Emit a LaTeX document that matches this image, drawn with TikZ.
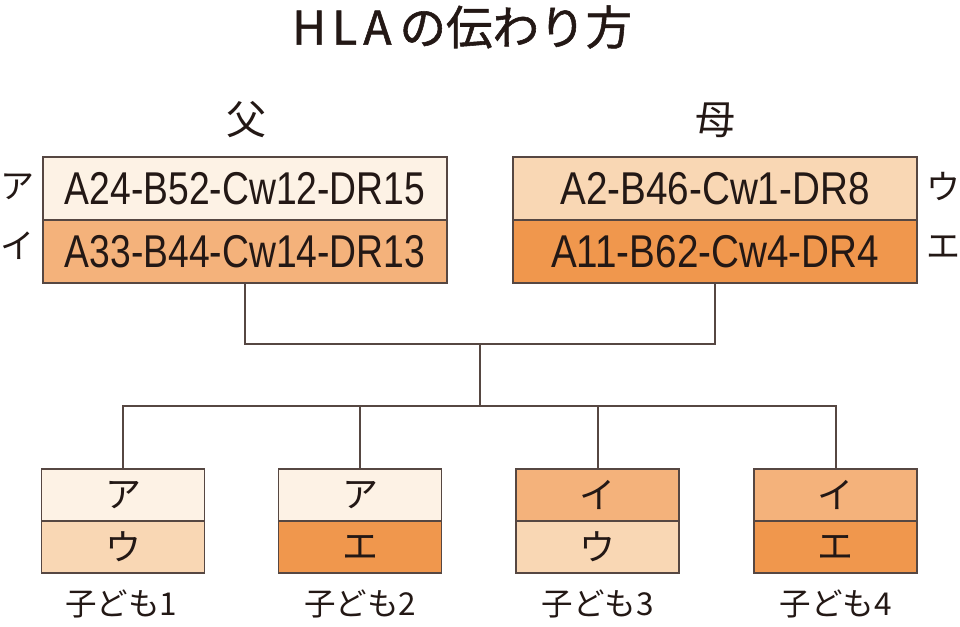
\documentclass[tikz,border=0pt]{standalone}
\usepackage{fontspec}
\usepackage{graphicx}
\setmainfont{Liberation Sans}
\newfontfamily\jpfont{Noto Sans CJK JP}
\newfontfamily\jptitle[FakeBold=1.2]{Noto Sans CJK JP}
\newfontfamily\latfont{Liberation Sans}
\newcommand\geno[1]{\scalebox{0.81}[1]{\latfont\fontsize{46pt}{50pt}\selectfont #1}}
\newcommand\genow[1]{\scalebox{0.84}[1]{\latfont\fontsize{46pt}{50pt}\selectfont #1}}
\definecolor{cA}{HTML}{FDF2E5}
\definecolor{cU}{HTML}{F9D7B4}
\definecolor{cI}{HTML}{F4B27B}
\definecolor{cE}{HTML}{F0974D}
\definecolor{bordercol}{HTML}{564742}
\definecolor{ink}{HTML}{231815}
\tikzset{
  prow/.style={draw=bordercol, line width=1.8pt, minimum width=404pt, minimum height=63pt, inner sep=0pt, text=ink},
  crow/.style={draw=bordercol, line width=1.8pt, minimum width=163pt, minimum height=52pt, inner sep=0pt, text=ink, font=\jpfont\fontsize{36pt}{38pt}\selectfont},
  kana/.style={inner sep=0pt, text=ink, font=\jpfont\fontsize{34pt}{38pt}\selectfont},
  conn/.style={draw=bordercol, line width=2pt},
  lbl/.style={inner sep=0pt, text=ink, font=\jpfont\fontsize{31.5pt}{34pt}\selectfont}
}
\begin{document}
\begin{tikzpicture}[x=1pt, y=-1pt]
\useasboundingbox (0,0) rectangle (960,626);
% title
\node[anchor=west, inner sep=0pt, text=ink, font=\jptitle\fontsize{46.5pt}{50pt}\selectfont] (title) at (292,27) {H\kern6pt L\kern6pt A\kern8pt の伝わり方};
% parents
\node[kana, font=\jpfont\fontsize{40pt}{44pt}\selectfont] (father) at (246,120) {父};
\node[kana, font=\jpfont\fontsize{40pt}{44pt}\selectfont] (mother) at (715,120) {母};
\node[prow, fill=cA] (fa1) at (245,188.5) {\geno{A24-B52-Cw12-DR15}};
\node[prow, fill=cI] (fa2) at (245,251.5) {\geno{A33-B44-Cw14-DR13}};
\node[prow, fill=cU] (mo1) at (715,188.5) {\genow{A2-B46-Cw1-DR8}};
\node[prow, fill=cE] (mo2) at (715,251.5) {\genow{A11-B62-Cw4-DR4}};
\node[kana] (la) at (17,187) {ア};
\node[kana] (li) at (17,246) {イ};
\node[kana] (lu) at (943,187) {ウ};
\node[kana] (le) at (943,247) {エ};
% children
\node[crow, fill=cA] (c1a) at (123,495) {ア};
\node[crow, fill=cU] (c1b) at (123,547) {ウ};
\node[crow, fill=cA] (c2a) at (360,495) {ア};
\node[crow, fill=cE] (c2b) at (360,547) {エ};
\node[crow, fill=cI] (c3a) at (597.5,495) {イ};
\node[crow, fill=cU] (c3b) at (597.5,547) {ウ};
\node[crow, fill=cI] (c4a) at (835.5,495) {イ};
\node[crow, fill=cE] (c4b) at (835.5,547) {エ};
\node[lbl] (n1) at (121,604) {子ども1};
\node[lbl] (n2) at (360,604) {子ども2};
\node[lbl] (n3) at (597.5,604) {子ども3};
\node[lbl] (n4) at (835.5,604) {子ども4};
% connectors
\coordinate (j1) at (480,344);
\coordinate (j2) at (480,406);
\draw[conn] (fa2.south) |- (j1) -| (mo2.south);
\draw[conn] (j1) -- (j2);
\draw[conn] (c1a.north) |- (j2) -| (c4a.north);
\draw[conn] (c2a.north) -- (c2a.north |- j2);
\draw[conn] (c3a.north) -- (c3a.north |- j2);
\end{tikzpicture}
\end{document}
